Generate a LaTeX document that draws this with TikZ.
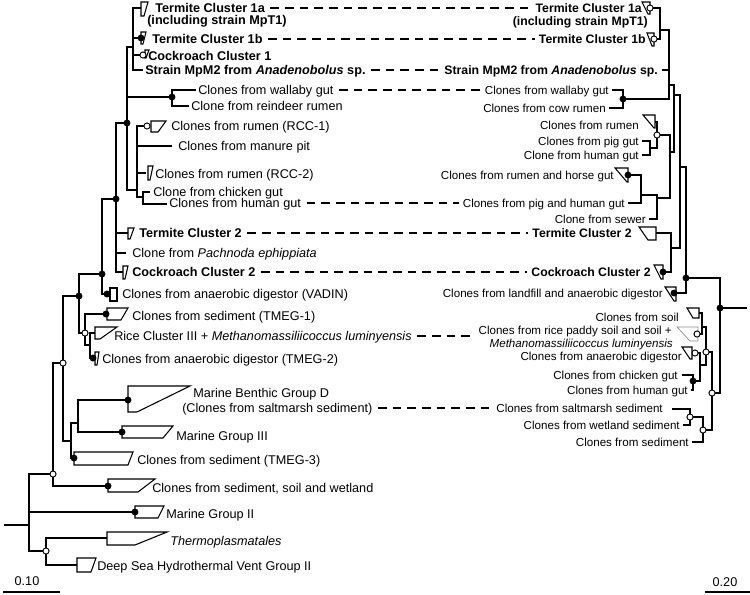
\documentclass[tikz,border=0pt]{standalone}
\usepackage{fontspec}
\setmainfont{Liberation Sans}
\usetikzlibrary{calc}

\begin{document}
\begin{tikzpicture}[x=0.75pt, y=-0.75pt,
  every node/.style={font=\fontsize{9.5}{11}\selectfont, inner sep=0pt, text height=6.8pt, text depth=0pt},
  lleaf/.style={anchor=west},
  lgrp/.style={anchor=west, font=\fontsize{9.5}{11}\selectfont\bfseries},
  rleaf/.style={anchor=east, font=\fontsize{8.7}{10}\selectfont, text height=6.3pt},
  rgrp/.style={anchor=east, font=\fontsize{9.2}{11}\selectfont\bfseries, text height=6.6pt},
  branch/.style={line width=0.9pt},
  clade/.style={line width=0.8pt, fill=white},
  faint/.style={line width=0.5pt, draw=black!45, fill=white},
  linkline/.style={line width=0.8pt, dash pattern=on 6.5pt off 4.5pt, shorten <=4pt, shorten >=3pt},
  ring/.style={line width=0.7pt, fill=white}]
\useasboundingbox (0,0) rectangle (750,594);

% left tree
\coordinate (Lstub) at (4,525);
\coordinate (Lroot) at (29,525);
\coordinate (LA) at (53,474);
\coordinate (LE) at (46,551);
\coordinate (LD) at (63,363);
\coordinate (LF) at (79,296);
\coordinate (LB) at (71,441);
\coordinate (LC) at (78,423);
\coordinate (LG) at (102,274);
\coordinate (LH) at (85,333);
\coordinate (LI) at (90,345);
\coordinate (LJ) at (116,199);
\coordinate (LK) at (127,123);
\coordinate (LT) at (133,47);
\coordinate (LW) at (172,97);
\coordinate (LL) at (137,190);
\coordinate (LM) at (143,197);
\coordinate (tc1a) at (141,8);
\coordinate (tc1b) at (141,38);
\coordinate (cc1) at (143,55);
\coordinate (mpm2) at (143,70);
\coordinate (wal) at (196,90);
\coordinate (rein) at (189,106);
\coordinate (rcc1) at (147,126);
\coordinate (manure) at (172,146);
\coordinate (rcc2) at (146,173);
\coordinate (chick) at (150,192);
\coordinate (human) at (167,204);
\coordinate (tc2) at (128,233);
\coordinate (pach) at (126,253);
\coordinate (cc2) at (123,272);
\coordinate (vadin) at (107,294);
\coordinate (tmeg1) at (106,314);
\coordinate (rice) at (95,333);
\coordinate (tmeg2) at (93,358);
\coordinate (mbgd) at (128,400);
\coordinate (mg3) at (122,432);
\coordinate (tmeg3) at (74,458);
\coordinate (ssw) at (108,486);
\coordinate (mg2) at (135,512);
\coordinate (thermo) at (107,538);
\coordinate (dshv) at (77,565);

\draw[clade] (141,2) -- (148,2) -- (144,16) -- (141,16) -- cycle;
\draw[clade] (141,32) -- (146,32) -- (143,44) -- (141,44) -- cycle;
\draw[clade] (145,50) -- (149,50) -- (146,58) -- (145,58) -- cycle;
\draw[clade] (151,121) -- (166,121) -- (158,132) -- (151,132) -- cycle;
\draw[clade] (148,166) -- (153,166) -- (150,180) -- (148,180) -- cycle;
\draw[clade] (128,228) -- (134,228) -- (130,239) -- (128,239) -- cycle;
\draw[clade] (123,266) -- (128,266) -- (125,279) -- (123,279) -- cycle;
\draw[clade] (110,288) -- (117,288) -- (117,301) -- (110,301) -- cycle;
\draw[clade] (107,308) -- (128,308) -- (121,320) -- (107,320) -- cycle;
\draw[clade] (95,327) -- (117,327) -- (100,339) -- (95,339) -- cycle;
\draw[clade] (95,352) -- (99,352) -- (97,365) -- (95,365) -- cycle;
\draw[clade] (128,386) -- (190,386) -- (137,412) -- (128,412) -- cycle;
\draw[clade] (122,426) -- (173,426) -- (163,438) -- (122,438) -- cycle;
\draw[clade] (74,452) -- (133,452) -- (128,465) -- (74,465) -- cycle;
\draw[clade] (108,479) -- (155,479) -- (138,492) -- (108,492) -- cycle;
\draw[clade] (135,506) -- (164,506) -- (158,518) -- (135,518) -- cycle;
\draw[clade] (107,532) -- (167,532) -- (135,545) -- (107,545) -- cycle;
\draw[clade] (77,558) -- (96,558) -- (91,572) -- (77,572) -- cycle;

\draw[branch] (Lroot) -- (Lstub)
  (Lroot) |- (LA) (Lroot) |- (mg2) (Lroot) |- (LE)
  (LA) |- (LD) (LA) |- (ssw)
  (LD) |- (LF) (LD) |- (LB)
  (LF) |- (LG) (LF) |- (LH)
  (LG) |- (LJ) (LG) |- (vadin)
  (LJ) |- (LK) (LJ) |- (tc2) (LJ) |- (pach) (LJ) |- (cc2)
  (LK) |- (LT) (LK) |- (LW) (LK) |- (LL)
  (LT) |- (tc1a) (LT) |- (tc1b) (LT) |- (cc1) (LT) |- (mpm2)
  (LW) |- (wal) (LW) |- (rein)
  (LL) |- (rcc1) (LL) |- (manure) (LL) |- (rcc2) (LL) |- (LM)
  (LM) |- (chick) (LM) |- (human)
  (LH) |- (tmeg1) (LH) |- (LI)
  (LI) |- (rice) (LI) |- (tmeg2)
  (LB) |- (LC) (LB) |- (tmeg3)
  (LC) |- (mbgd) (LC) |- (mg3)
  (LE) |- (thermo) (LE) |- (dshv);

\node[lgrp] (ltc1a) at (155,8) {Termite Cluster 1a};
\node[lgrp] (ltc1ab) at (147,20) {(including strain MpT1)};
\node[lgrp] (ltc1b) at (152,39) {Termite Cluster 1b};
\node[lgrp] (lcc1) at (148,56) {Cockroach Cluster 1};
\node[lgrp] (lmpm2) at (145,70) {Strain MpM2 from \textit{Anadenobolus} sp.};
\node[lleaf] (lwal) at (198,90) {Clones from wallaby gut};
\node[lleaf] (lrein) at (191,106) {Clone from reindeer rumen};
\node[lleaf] (lrcc1) at (171,126) {Clones from rumen (RCC-1)};
\node[lleaf] (lman) at (178,146) {Clones from manure pit};
\node[lleaf] (lrcc2) at (155,174) {Clones from rumen (RCC-2)};
\node[lleaf] (lchick) at (153,192) {Clone from chicken gut};
\node[lleaf] (lhuman) at (169,203) {Clones from human gut};
\node[lgrp] (ltc2) at (139,233) {Termite Cluster 2};
\node[lleaf] (lpach) at (132,253) {Clone from \textit{Pachnoda ephippiata}};
\node[lgrp] (lcc2) at (132,272) {Cockroach Cluster 2};
\node[lleaf] (lvad) at (122,294) {Clones from anaerobic digestor (VADIN)};
\node[lleaf] (ltm1) at (132,316) {Clones from sediment (TMEG-1)};
\node[lleaf] (lrice) at (114,336) {Rice Cluster III + \textit{Methanomassiliicoccus luminyensis}};
\node[lleaf] (ltm2) at (102,359) {Clones from anaerobic digestor (TMEG-2)};
\node[lleaf] (lmbg) at (193,393) {Marine Benthic Group D};
\node[lleaf] (lmbgb) at (182,408) {(Clones from saltmarsh sediment)};
\node[lleaf] (lmg3) at (176,436) {Marine Group III};
\node[lleaf] (ltm3) at (137,460) {Clones from sediment (TMEG-3)};
\node[lleaf] (lssw) at (152,488) {Clones from sediment, soil and wetland};
\node[lleaf] (lmg2) at (166,514) {Marine Group II};
\node[lleaf] (lthermo) at (170,541) {\textit{Thermoplasmatales}};
\node[lleaf] (ldshv) at (97,566) {Deep Sea Hydrothermal Vent Group II};

% right tree
\coordinate (Rstub) at (747,308);
\coordinate (Rroot) at (720,308);
\coordinate (RN4) at (686,278);
\coordinate (RR2) at (712,393);
\coordinate (RN3) at (680,167);
\coordinate (RN2) at (674,95);
\coordinate (RN1) at (669,85);
\coordinate (RTC) at (660,30);
\coordinate (RW) at (623,99);
\coordinate (RQ) at (670,152);
\coordinate (RRu) at (657,135);
\coordinate (RPi) at (650,148);
\coordinate (RSe) at (657,198);
\coordinate (RHo) at (641,195);
\coordinate (RTC2) at (671,248);
\coordinate (RU) at (706,352);
\coordinate (RSR) at (702,327);
\coordinate (RAC) at (700,365);
\coordinate (RCH) at (693,381);
\coordinate (RS) at (703,430);
\coordinate (RSM) at (690,417);
\coordinate (rtc1a) at (650,8);
\coordinate (rtc1b) at (654,39);
\coordinate (rmpm2) at (662,70);
\coordinate (rwal) at (612,90);
\coordinate (rcow) at (609,108);
\coordinate (rrum) at (655,122);
\coordinate (rpig) at (642,141);
\coordinate (rhum) at (642,155);
\coordinate (rhorse) at (628,175);
\coordinate (rpah) at (628,203);
\coordinate (rsewer) at (649,219);
\coordinate (rtc2) at (656,233);
\coordinate (rcc2) at (663,272);
\coordinate (rland) at (674,293);
\coordinate (rsoil) at (699,313);
\coordinate (rrice) at (697,334);
\coordinate (rad) at (695,353);
\coordinate (rchick) at (682,375);
\coordinate (rhum2) at (691,390);
\coordinate (rsalt) at (672,409);
\coordinate (rwet) at (683,425);
\coordinate (rsed) at (692,442);

\draw[clade] (642,2) -- (650,2) -- (650,14) -- (648,14) -- cycle;
\draw[clade] (647,33) -- (654,33) -- (654,46) -- (652,46) -- cycle;
\draw[clade] (643,115) -- (655,115) -- (655,128) -- (654,128) -- cycle;
\draw[clade] (615,168) -- (628,168) -- (628,182) -- (627,182) -- cycle;
\draw[clade] (639,227) -- (656,227) -- (656,240) -- (648,240) -- cycle;
\draw[clade] (654,265) -- (663,265) -- (663,279) -- (661,279) -- cycle;
\draw[clade] (665,287) -- (676,287) -- (676,301) -- (674,301) -- cycle;
\draw[clade] (687,308) -- (699,308) -- (699,318) -- (693,318) -- cycle;
\draw[faint] (677,327) -- (698,327) -- (698,341) -- (690,341) -- cycle;
\draw[clade] (682,347) -- (692,347) -- (692,359) -- (690,359) -- cycle;

\draw[branch] (Rroot) -- (Rstub)
  (Rroot) |- (RN4) (Rroot) |- (RR2)
  (RN4) |- (RN3) (RN4) |- (rland)
  (RN3) |- (RN2) (RN3) |- (RTC2)
  (RN2) |- (RN1) (RN2) |- (RQ)
  (RN1) |- (RTC) (RN1) |- (rmpm2) (RN1) |- (RW)
  (RTC) |- (rtc1a) (RTC) |- (rtc1b)
  (RW) |- (rwal) (RW) |- (rcow)
  (RQ) |- (RRu) (RQ) |- (RSe)
  (RRu) |- (rrum) (RRu) |- (RPi)
  (RPi) |- (rpig) (RPi) |- (rhum)
  (RSe) |- (RHo) (RSe) |- (rsewer)
  (RHo) |- (rhorse) (RHo) |- (rpah)
  (RTC2) |- (rtc2) (RTC2) |- (rcc2)
  (RR2) |- (RU) (RR2) |- (RS)
  (RU) |- (RSR) (RU) |- (RAC)
  (RSR) |- (rsoil) (RSR) |- (rrice)
  (RAC) |- (rad) (RAC) |- (RCH)
  (RCH) |- (rchick) (RCH) |- (rhum2)
  (RS) |- (RSM) (RS) |- (rsed)
  (RSM) |- (rsalt) (RSM) |- (rwet);

\node[rgrp] (rltc1a) at (642,8) {Termite Cluster 1a};
\node[rgrp] (rltc1ab) at (648,21) {(including strain MpT1)};
\node[rgrp] (rltc1b) at (646,39) {Termite Cluster 1b};
\node[rgrp] (rlmpm2) at (658,70) {Strain MpM2 from \textit{Anadenobolus} sp.};
\node[rleaf] (rlwal) at (609,90) {Clones from wallaby gut};
\node[rleaf] (rlcow) at (606,108) {Clones from cow rumen};
\node[rleaf] (rlrum) at (639,125) {Clones from rumen};
\node[rleaf] (rlpig) at (639,141) {Clones from pig gut};
\node[rleaf] (rlhum) at (639,155) {Clone from human gut};
\node[rleaf] (rlhorse) at (614,175) {Clones from rumen and horse gut};
\node[rleaf] (rlpah) at (625,203) {Clones from pig and human gut};
\node[rleaf] (rlsew) at (646,219) {Clone from sewer};
\node[rgrp] (rltc2) at (632,233) {Termite Cluster 2};
\node[rgrp] (rlcc2) at (651,272) {Cockroach Cluster 2};
\node[rleaf] (rlland) at (663,293) {Clones from landfill and anaerobic digestor};
\node[rleaf] (rlsoil) at (679,317) {Clones from soil};
\node[rleaf] (rlrice) at (672,330) {Clones from rice paddy soil and soil +};
\node[rleaf] (rlriceb) at (673,343) {\textit{Methanomassiliicoccus luminyensis}};
\node[rleaf] (rlad) at (682,356) {Clones from anaerobic digestor};
\node[rleaf] (rlchick) at (678,375) {Clones from chicken gut};
\node[rleaf] (rlhum2) at (688,390) {Clones from human gut};
\node[rleaf] (rlsalt) at (663,408) {Clones from saltmarsh sediment};
\node[rleaf] (rlwet) at (680,425) {Clones from wetland sediment};
\node[rleaf] (rlsed) at (689,442) {Clones from sediment};

\foreach \p in {LK,LJ,LG,LF,LW,tc1b,rcc2,vadin,tmeg1,tmeg2,mbgd,mg3,tmeg3,ssw,mg2,Rroot,RN4,RW,rhorse,rland,RCH}
  \fill (\p) circle (2.6pt);
\foreach \p in {LA,LD,LH,LE,cc1,rcc1,rtc1a,rtc1b,RRu,rrice,rad,RU,RR2,RS,RSM}
  \draw[ring] (\p) circle (2.3pt);

% links between the two trees
\draw[linkline] (ltc1a.east) -- (rltc1a.west);
\draw[linkline] (ltc1b.east) -- (rltc1b.west);
\draw[linkline] (lmpm2.east) -- (rlmpm2.west);
\draw[linkline] (lwal.east) -- (rlwal.west);
\draw[linkline] (lhuman.east) -- (rlpah.west);
\draw[linkline] (ltc2.east) -- (rltc2.west);
\draw[linkline] (lcc2.east) -- (rlcc2.west);
\draw[linkline] (lrice.east) -- (lrice.east -| rlrice.west);
\draw[linkline] (lmbgb.east) -- (rlsalt.west);

% scale bars
\coordinate (sl1) at (3,592);
\coordinate (sl2) at (60,592);
\coordinate (sr1) at (705,592);
\coordinate (sr2) at (750,592);
\draw[line width=0.9pt] (sl1) -- (sl2) (sr1) -- (sr2);
\node (sbl) at (27,581) {0.10};
\node (sbr) at (725,582) {0.20};
\end{tikzpicture}
\end{document}
